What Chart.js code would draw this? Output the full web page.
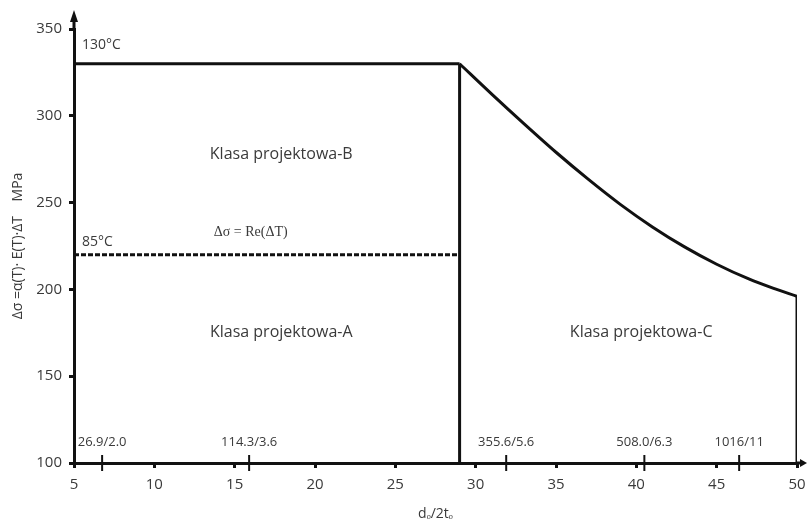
<!DOCTYPE html>
<html>
<head>
<meta charset="utf-8">
<script src="https://cdn.jsdelivr.net/npm/chart.js@4.4.1/dist/chart.umd.min.js"></script>
<style>
  html, body { margin: 0; padding: 0; background: #fff; }
  #wrap { width: 807px; height: 524px; }
</style>
</head>
<body>
<div id="wrap"><canvas id="myChart"></canvas></div>
<script>
// flat limit at 130C (class A/B)
const flatX = [5, 29];
const flatY = [330, 330];
// falling limit for class C
const curveX = [29, 31, 33, 35, 37, 39, 41, 43, 45, 47, 48.5, 50];
const curveY = [330, 312.5, 295.5, 279, 263.5, 249, 236, 224.5, 214.5, 206, 200.7, 196];
// 85C dashed line
const dashX = [5, 29];
const dashY = [220, 220];
// vertical walls
const wallA = [[29, 330], [29, 100]];
const wallB = [[50, 196], [50, 100]];
// pipe sizes do/to marked on x axis
const sizeLabels = ['26.9/2.0', '114.3/3.6', '355.6/5.6', '508.0/6.3', '1016/11'];
const sizeX = [6.75, 15.9, 31.9, 40.5, 46.4];
const yTicks = [100, 150, 200, 250, 300, 350];

// text notes in the plot (data coords)
const notes = [
  { text: '130°C', x: 5.5, y: 340.5, align: 'left', font: '14px "Open Sans"' },
  { text: '85°C', x: 5.5, y: 227.5, align: 'left', font: '14px "Open Sans"' },
  { text: 'Klasa projektowa-B', x: 17.9, y: 277.5, align: 'center', font: '16px "Open Sans"' },
  { text: 'Δσ = Re(ΔT)', x: 16, y: 233, align: 'center', font: '14px "Liberation Serif"' },
  { text: 'Klasa projektowa-A', x: 17.9, y: 175, align: 'center', font: '16px "Open Sans"' },
  { text: 'Klasa projektowa-C', x: 40.3, y: 175, align: 'center', font: '16px "Open Sans"' }
];

const pts = (xs, ys) => xs.map((v, i) => ({ x: v, y: ys[i] }));
const ink = '#111';
const txt = '#3a3a3a';

const decor = {
  id: 'decor',
  afterDraw(chart) {
    const { ctx, chartArea: a, scales: { x, y } } = chart;
    ctx.save();
    // axis arrows
    ctx.strokeStyle = ink; ctx.fillStyle = ink; ctx.lineWidth = 3;
    ctx.beginPath(); ctx.moveTo(a.left, a.top); ctx.lineTo(a.left, 18); ctx.stroke();
    ctx.beginPath(); ctx.moveTo(a.left - 4, 22); ctx.lineTo(a.left + 4, 22); ctx.lineTo(a.left, 10); ctx.closePath(); ctx.fill();
    ctx.beginPath(); ctx.moveTo(a.right, a.bottom); ctx.lineTo(802, a.bottom); ctx.stroke();
    ctx.beginPath(); ctx.moveTo(800, a.bottom - 4); ctx.lineTo(800, a.bottom + 4); ctx.lineTo(807, a.bottom); ctx.closePath(); ctx.fill();
    // size labels
    ctx.fillStyle = txt; ctx.font = '13px "Open Sans"';
    ctx.textAlign = 'center'; ctx.textBaseline = 'middle';
    sizeLabels.forEach((s, i) => ctx.fillText(s, x.getPixelForValue(sizeX[i]), a.bottom - 21));
    // notes
    notes.forEach(n => {
      ctx.font = n.font; ctx.textAlign = n.align;
      ctx.fillText(n.text, x.getPixelForValue(n.x), y.getPixelForValue(n.y));
    });
    ctx.restore();
  }
};

const line = (data, extra) => Object.assign({
  data: data, showLine: true, borderColor: ink, borderWidth: 3,
  pointRadius: 0, tension: 0, fill: false
}, extra || {});

new Chart(document.getElementById('myChart'), {
  type: 'scatter',
  data: {
    datasets: [
      line(pts(flatX, flatY)),
      line(pts(curveX, curveY), { cubicInterpolationMode: 'monotone' }),
      line(wallA.map(p => ({ x: p[0], y: p[1] }))),
      line(wallB.map(p => ({ x: p[0], y: p[1] }))),
      line(pts(dashX, dashY), { borderDash: [5, 2] }),
      {
        data: sizeX.map(v => ({ x: v, y: 100 })),
        showLine: false, pointStyle: 'line', rotation: 90, pointRadius: 8,
        borderColor: ink, borderWidth: 2, clip: false
      }
    ]
  },
  options: {
    responsive: true,
    maintainAspectRatio: false,
    animation: false,
    layout: { padding: { top: 29, right: 10, left: 0, bottom: 0 } },
    plugins: { legend: { display: false }, tooltip: { enabled: false } },
    scales: {
      x: {
        type: 'linear', min: 5, max: 50,
        afterFit: s => { s.height = 61; s.paddingLeft = 0; s.paddingRight = 0; },
        border: { display: true, width: 3, color: ink },
        grid: { drawOnChartArea: false, tickLength: 5, lineWidth: 3, color: ink },
        ticks: { stepSize: 5, padding: 8, color: txt, font: { family: 'Open Sans', size: 15 } },
        title: { display: true, text: 'dₒ/2tₒ', color: txt, font: { family: 'Open Sans', size: 14 }, padding: { bottom: 2 } }
      },
      y: {
        type: 'linear', min: 100, max: 350,
        afterFit: s => { s.width = 74; s.paddingTop = 0; s.paddingBottom = 0; },
        afterBuildTicks: s => { s.ticks = yTicks.map(v => ({ value: v })); },
        border: { display: true, width: 3, color: ink },
        grid: { drawOnChartArea: false, tickLength: 5, lineWidth: 3, color: ink },
        ticks: { padding: 7, color: txt, font: { family: 'Open Sans', size: 15 } },
        title: { display: true, text: 'Δσ =α(T)· E(T)·ΔT    MPa', color: txt, font: { family: 'Open Sans', size: 14 }, padding: { top: 10 } }
      }
    }
  },
  plugins: [decor]
});
</script>
</body>
</html>
